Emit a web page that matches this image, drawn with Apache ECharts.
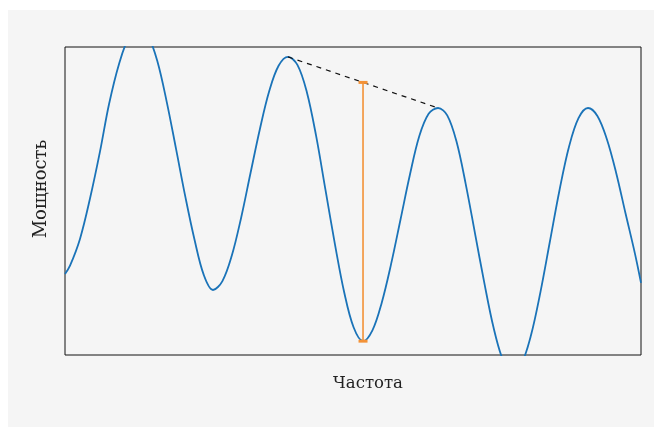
<!DOCTYPE html>
<html>
<head>
<meta charset="utf-8">
<script src="https://cdn.jsdelivr.net/npm/echarts@6/dist/echarts.min.js"></script>
<style>
  html, body { margin: 0; padding: 0; background: #ffffff; }
  #bg { position: absolute; left: 8px; top: 10px; right: 0; bottom: 0; background: #f5f5f5; }
  #chart { position: absolute; left: 0; top: 0; width: 654px; height: 427px; }
</style>
</head>
<body>
<div id="bg"></div>
<div id="chart"></div>
<script>
// Curve: frequency (0..100) and power (0..100)
const freq = [
  0, 0.87, 2.60, 4.34, 6.08, 7.64, 9.38, 11.11, 12.85,
  14.45, 16.06, 17.66, 19.27, 20.88, 22.48, 24.09, 25.69,
  27.33, 28.95, 30.57, 32.20, 33.84, 35.46, 37.08, 38.72,
  40.35, 41.97, 43.59, 45.23, 46.86, 48.48, 50.10, 51.74,
  53.37, 54.99, 56.61, 58.25, 59.88, 61.50, 63.13, 64.76,
  66.36, 67.97, 69.57, 71.18, 72.79, 74.39, 76.00, 77.60,
  79.25, 80.90, 82.55, 84.20, 85.85, 87.50, 89.15, 90.80,
  92.43, 94.05, 95.68, 97.31, 98.94, 100
];
const power = [
  26.3, 29.0, 37.7, 50.8, 66.1, 81.4, 94.5, 103.2, 106.2,
  103.5, 95.2, 82.2, 67.0, 51.5, 37.5, 26.0, 21.1,
  24.0, 32.2, 44.5, 59.0, 73.4, 85.7, 93.9, 96.8,
  94.2, 85.5, 71.2, 53.5, 36.0, 20.3, 9.0, 4.5,
  8.0, 17.0, 29.5, 44.0, 58.5, 71.0, 78.3, 80.2,
  77.8, 69.3, 55.5, 39.5, 23.5, 9.0, -1.5, -6.2,
  -2.9, 6.4, 20.5, 37.0, 53.5, 67.6, 76.9, 80.2,
  77.6, 70.2, 59.2, 46.0, 33.0, 23.4
];

// dashed line between the two peaks
const peakFreq = [38.72, 64.76];
const peakPower = [96.8, 80.2];

// orange depth marker: from the dashed line down to the trough
const depthFreq = [51.74, 51.74];
const depthPower = [88.5, 4.5];

const zip = (a, b) => a.map((v, i) => [v, b[i]]);

const chart = echarts.init(document.getElementById('chart'));
const labelFont = { fontFamily: 'DejaVu Serif', color: '#222' };

chart.setOption({
  animation: false,
  grid: { left: 65, top: 47, right: 13, bottom: 72, show: true, borderColor: '#111', borderWidth: 1,
    backgroundColor: 'transparent' },
  xAxis: {
    type: 'value', min: 0, max: 100,
    name: 'Частота', nameLocation: 'middle', nameGap: 20,
    nameTextStyle: Object.assign({ fontSize: 16.5, padding: [0, 0, 0, 30] }, labelFont),
    axisLine: { show: false }, axisTick: { show: false }, axisLabel: { show: false }, splitLine: { show: false }
  },
  yAxis: {
    type: 'value', min: 0, max: 100,
    name: 'Мощность', nameLocation: 'middle', nameGap: 15,
    nameTextStyle: Object.assign({ fontSize: 18, padding: [0, 0, 0, 24] }, labelFont),
    axisLine: { show: false }, axisTick: { show: false }, axisLabel: { show: false }, splitLine: { show: false }
  },
  series: [
    {
      type: 'line', data: zip(freq, power), smooth: 0.35, showSymbol: false, clip: true,
      lineStyle: { color: '#1a73b8', width: 1.8 }
    },
    {
      type: 'line', data: zip(peakFreq, peakPower), showSymbol: false,
      lineStyle: { color: '#111', width: 1.2, type: [5, 5] }
    },
    {
      type: 'line', data: zip(depthFreq, depthPower), symbol: 'rect', symbolSize: [9, 3], showSymbol: true,
      itemStyle: { color: '#f39237' }, lineStyle: { color: '#f39237', width: 1.6 }
    }
  ]
});
</script>
</body>
</html>
